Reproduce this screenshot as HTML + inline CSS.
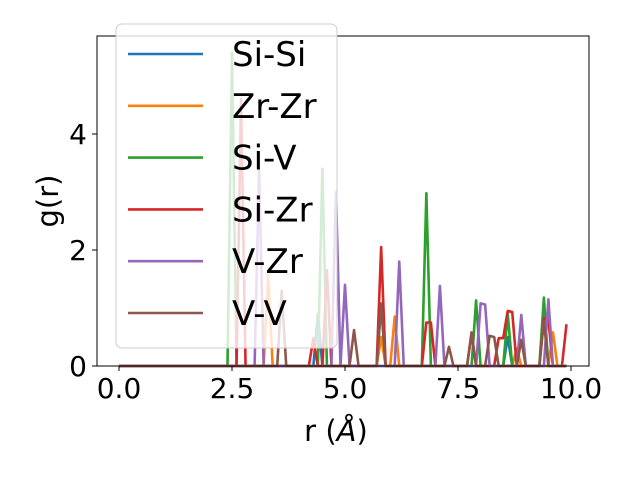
<!DOCTYPE html>
<html><head><meta charset="utf-8"><style>
body{margin:0;background:#fff;}
svg{display:block;font-family:"DejaVu Sans","Liberation Sans",sans-serif;}
</style></head><body>
<svg id="chart" width="640" height="480">
<g id="plot"></g>
</svg>
<script>
const rValues = [0,0.1,0.2,0.3,0.4,0.5,0.6,0.7,0.8,0.9,1,1.1,1.2,1.3,1.4,1.5,1.6,1.7,1.8,1.9,2,2.1,2.2,2.3,2.4,2.5,2.6,2.7,2.8,2.9,3,3.1,3.2,3.3,3.4,3.5,3.6,3.7,3.8,3.9,4,4.1,4.2,4.3,4.4,4.5,4.6,4.7,4.8,4.9,5,5.1,5.2,5.3,5.4,5.5,5.6,5.7,5.8,5.9,6,6.1,6.2,6.3,6.4,6.5,6.6,6.7,6.8,6.9,7,7.1,7.2,7.3,7.4,7.5,7.6,7.7,7.8,7.9,8,8.1,8.2,8.3,8.4,8.5,8.6,8.7,8.8,8.9,9,9.1,9.2,9.3,9.4,9.5,9.6,9.7,9.8,9.9];
const siSi = [0,0,0,0,0,0,0,0,0,0, 0,0,0,0,0,0,0,0,0,0, 0,0,0,0,0,0,0,0,0,0, 0,0,0,0,0,0,0,0,0,0,
 0,0,0,0,0.9,0,0,0,0,0, 0,0,0,0,0,0,0,0,0,0, 0,0,0,0,0,0,0,0,0,0, 0,0,0,0,0,0,0,0,0,0,
 0,0,0,0,0,0,0.5,0,0,0, 0,0,0,0,0,0,0,0,0,0];
const zrZr = [0,0,0,0,0,0,0,0,0,0, 0,0,0,0,0,0,0,0,0,0, 0,0,0,0,0,0,0,0,0,0, 0,0,0,1.57,0,0,0,0,0,0,
 0,0,0,0,0,0,0,0,0,0, 0,0,0,0,0,0,0,0,0.5,0, 0,0.85,0,0,0,0,0,0,0,0, 0,0,0,0,0,0,0,0,0,0,
 0,0,0,0,0,0,0,0,0.3,0, 0,0,0,0,0,0,0.58,0,0,0];
const siV = [0,0,0,0,0,0,0,0,0,0, 0,0,0,0,0,0,0,0,0,0, 0,0,0,0,0,5.4,0,0,0,0, 0,0,0,0,0,0,0,0,0,0,
 0,0,0,0,0,3.4,0,0,0,0, 0,0,0,0,0,0,0,0,1.08,0, 0,0,0,0,0,0,0,0,2.98,0, 0,0,0,0,0,0,0,0,0,1.13,
 0,0,0,0,0,0,0.9,0,0,0, 0,0,0,0,1.18,0,0,0,0,0];
const siZr = [0,0,0,0,0,0,0,0,0,0, 0,0,0,0,0,0,0,0,0,0, 0,0,0,0,0,0,0,4.6,0,0, 0,0,0,0,0,0,0,0,0,0,
 0,0,0,0.48,0,0,1.65,0,0,0, 0,0,0,0,0,0,0,0,2.05,0, 0,0,0,0,0,0,0,0,0.75,0.75, 0,0,0,0,0,0,0,0,0.57,0,
 0,0,0,0,0.48,0.48,0.95,0.93,0,0, 0,0,0,0,0.82,0.8,0,0,0,0.72];
const vZr = [0,0,0,0,0,0,0,0,0,0, 0,0,0,0,0,0,0,0,0,0, 0,0,0,0,0,0,0,0,0,0, 0,3.38,0,0,0,0,0,0,0,0,
 0,0,0,0,0,0,0,0,3.0,0, 1.4,0,0,0,0,0,0,0,0,0, 0,0,1.8,0,0,0,0,0,0,0, 0,1.38,0,0,0,0,0,0,0,0,
 1.08,1.06,0,0,0,0,0,0,0,0.88, 0,0,0,0,0,1.15,0,0,0,0];
const vV = [0,0,0,0,0,0,0,0,0,0, 0,0,0,0,0,0,0,0,0,0, 0,0,0,0,0,0,0,0,0,0, 0,0,0,0,0,0,1.3,0,0,0,
 0,0,0,0,0,0,0,0,0,0, 0,0,0.62,0,0,0,0,0,1.05,0, 0,0,0,0,0,0,0,0,0,0, 0,0,0,0.33,0,0,0,0,0.58,0,
 0,0,0.52,0.5,0,0,0,0,0,0.45, 0,0,0,0,0.78,0,0,0,0,0];
const seriesNames = ["Si-Si","Zr-Zr","Si-V","Si-Zr","V-Zr","V-V"];
const seriesData = [siSi, zrZr, siV, siZr, vZr, vV];
const xTicks = [0, 2.5, 5, 7.5, 10];
const xTickLabels = ["0.0","2.5","5.0","7.5","10.0"];
const yTicks = [0, 2, 4];
const yTickLabels = ["0","2","4"];
const colors = ["#1f77b4","#ff7f0e","#2ca02c","#d62728","#9467bd","#8c564b"];

const L=97,R=589,T=36,B=366;
const x = v => 119 + v*45.2;
const y = v => 366 - v*58;
const NS="http://www.w3.org/2000/svg";
const svg=document.getElementById('chart');
function mk(tag, attrs, parent){const e=document.createElementNS(NS,tag);for(const k in attrs)e.setAttribute(k,attrs[k]);(parent||svg).appendChild(e);return e;}

seriesData.forEach((d,si)=>{
  const pts=d.map((v,i)=>x(rValues[i]).toFixed(2)+","+y(v).toFixed(2)).join(" ");
  const pl=mk('polyline',{points:pts,fill:"none",stroke:colors[si],"stroke-width":2.6,"stroke-linejoin":"round"});
  
  
});
const frame=mk('rect',{x:L,y:T,width:R-L,height:B-T,fill:"none",stroke:"#000","stroke-width":1});


xTicks.forEach((t,i)=>{
  const tk=mk('line',{x1:x(t),x2:x(t),y1:B,y2:B+5,stroke:"#000"});
  
  
  const tx=mk('text',{x:x(t),y:398,"text-anchor":"middle","font-size":28});
  tx.textContent=xTickLabels[i];
  
  
});
yTicks.forEach((t,i)=>{
  const tk=mk('line',{x1:L-5,x2:L,y1:y(t),y2:y(t),stroke:"#000"});
  
  
  const tx=mk('text',{x:L-10,y:y(t)+10,"text-anchor":"end","font-size":28});
  tx.textContent=yTickLabels[i];
  
  
});
const xl=mk('text',{x:336,y:441,"text-anchor":"middle","font-size":29});
xl.innerHTML='r (<tspan font-style="italic">Å</tspan>)';


const yl=mk('text',{x:0,y:0,"text-anchor":"middle","font-size":29,transform:"translate(58,201) rotate(-90)"});
yl.textContent='g(r)';


const lg=mk('g',{});


mk('rect',{x:116,y:24,width:221,height:324,rx:6,fill:"#fff","fill-opacity":0.8,stroke:"#ccc"},lg);
seriesNames.forEach((n,i)=>{
  const yy=54+i*51.8;
  const ln=mk('line',{x1:128,x2:203,y1:yy,y2:yy,stroke:colors[i],"stroke-width":2.6},lg);
  
  
  const t=mk('text',{x:232,y:yy+12,"font-size":34},lg);
  t.textContent=n;
  
  
});
</script>
</body></html>
